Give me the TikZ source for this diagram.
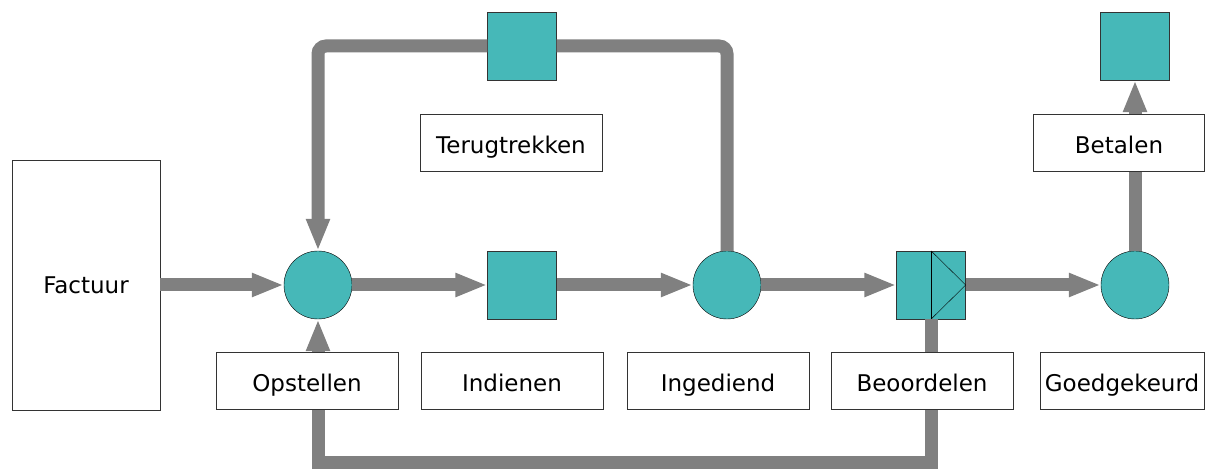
\documentclass[tikz,border=0pt]{standalone}
\usepackage{fontspec}
\setmainfont{DejaVu Sans}
\usetikzlibrary{arrows.meta}

\definecolor{petrol}{RGB}{70,184,184}
\definecolor{flow}{RGB}{128,128,128}

\tikzset{
  place/.style={circle,draw=black,thin,fill=petrol,minimum size=68pt,inner sep=0pt},
  trans/.style={rectangle,draw=black!80,thin,fill=petrol,minimum width=69pt,minimum height=68pt,inner sep=0pt},
  tag/.style={rectangle,draw=black!80,thin,fill=white,minimum width=182pt,minimum height=57pt,inner sep=0pt,
    font=\fontsize{23}{27}\selectfont,text height=21pt,text depth=0pt},
  pipe/.style={draw=flow,line width=13pt},
  pipearrow/.style={pipe,-{Triangle[width=22pt,length=32pt]}}
}

\begin{document}
\begin{tikzpicture}[x=1pt,y=-1pt]
    \useasboundingbox (0,0) rectangle (1211,470);
    % case document
    \node [draw=black!80,thin,minimum width=148pt,minimum height=250pt,inner sep=0pt,font=\fontsize{23}{27}\selectfont] (factuur) at (86,285) {Factuur};
    % places and transitions
    \node [place] (p1) at (318,285) {};
    \node [trans] (t1) at (522,285) {};
    \node [place] (p2) at (727,285) {};
    \node [trans] (t2) at (931,285) {};
    \node [place] (p3) at (1135,285) {};
    \node [trans] (t3) at (522,46) {};
    \node [trans] (t4) at (1135,46) {};
    \draw [thin] (t2.north) -- (t2.south);
    \draw [thin] (t2.north) -- (t2.east) -- (t2.south);
    % flow
    \draw [pipearrow] (factuur.east) -- (p1.west);
    \draw [pipearrow] (p1.east) -- (t1.west);
    \draw [pipearrow] (t1.east) -- (p2.west);
    \draw [pipearrow] (p2.east) -- (t2.west);
    \draw [pipearrow] (t2.east) -- (p3.west);
    \draw [pipearrow] (p3.north) -- (t4.south);
    \draw [pipe,rounded corners=8pt] (p2.north) -- (727,46) -- (t3.east);
    \draw [pipearrow,rounded corners=8pt] (t3.west) -- (318,46) -- (p1.north);
    \draw [pipearrow] (t2.south) -- (931,462) -- (318,462) -- (p1.south);
    % labels
    \node [tag] (terug) at (511,143) {Terugtrekken};
    \node [tag,minimum width=171pt] (betalen) at (1119,143) {Betalen};
    \node [tag] (opstellen) at (307,381) {Opstellen};
    \node [tag] (indienen) at (512,381) {Indienen};
    \node [tag] (ingediend) at (718,381) {Ingediend};
    \node [tag] (beoordelen) at (922,381) {Beoordelen};
    \node [tag,minimum width=164pt] (goed) at (1122,381) {Goedgekeurd};
\end{tikzpicture}
\end{document}
